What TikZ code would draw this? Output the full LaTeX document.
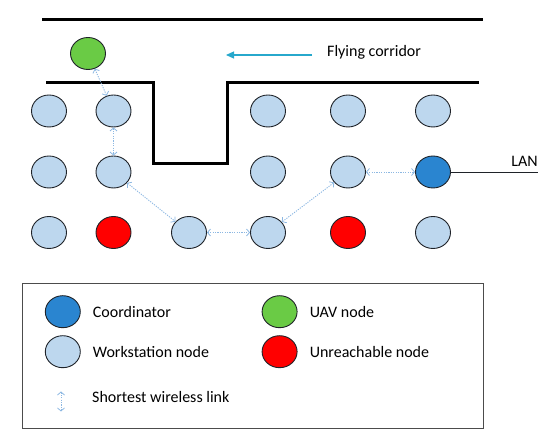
\documentclass[tikz,border=0pt]{standalone}
\usepackage{fontspec}
\setmainfont{Carlito}
\usepackage{tikz}
\usetikzlibrary{positioning, arrows.meta, shapes.geometric}
\definecolor{wsblue}{HTML}{BDD7EE}
\definecolor{coordblue}{HTML}{2A85D0}
\definecolor{uavgreen}{HTML}{6ACB45}
\definecolor{deadred}{HTML}{FF0000}
\definecolor{linkblue}{HTML}{8DB8E2}
\definecolor{corridorcyan}{HTML}{27A8CC}
\definecolor{outline}{HTML}{1F2329}
\tikzset{
  station/.style={ellipse, draw=outline, line width=0.9pt, fill=wsblue, minimum width=35pt, minimum height=32pt, inner sep=0pt},
  coordinator/.style={station, fill=coordblue},
  uav/.style={station, fill=uavgreen},
  unreachable/.style={station, fill=deadred},
  wall/.style={line width=3pt, draw=black},
  link/.style={{Straight Barb[length=3pt, width=7pt, line width=0.8pt]}-{Straight Barb[length=3pt, width=7pt, line width=0.8pt]}, line width=0.9pt, draw=linkblue, dash pattern=on 1.2pt off 1.2pt},
  corridor/.style={-{Triangle[length=8pt, width=7pt]}, line width=1.1pt, draw=corridorcyan},
  label/.style={font=\fontsize{16}{19}\selectfont, inner sep=0pt},
}

\begin{document}
\begin{tikzpicture}[x=1pt, y=-1pt]
  \useasboundingbox (0,0) rectangle (550,438);

  % Corridor walls
  \draw[wall] (42,19.5) -- (483,19.5);
  \draw[wall] (46,83) -- (153,83) -- (153,164) -- (227,164) -- (227,83) -- (479,83);

  % Flying corridor direction
  \coordinate (flytail) at (312,55);
  \coordinate (flyhead) at (226,55);
  \draw[corridor] (flytail) -- (flyhead);
  \node[label, anchor=west] (flytext) at (327,52) {Flying corridor};

  % UAV
  \node[uav] (uav) at (88,53.5) {};

  % Row 1
  \node[station] (w11) at (49,111) {};
  \node[station] (w12) at (113.5,111) {};
  \node[station] (w14) at (268,111) {};
  \node[station] (w15) at (348,111) {};
  \node[station] (w16) at (433,111) {};
  % Row 2
  \node[station] (w21) at (49,172) {};
  \node[station] (w22) at (113.5,172) {};
  \node[station] (w24) at (268,172) {};
  \node[station] (w25) at (348,172) {};
  \node[coordinator] (coord) at (433,172) {};
  % Row 3
  \node[station] (w31) at (49,232.5) {};
  \node[unreachable] (w32) at (113.5,232.5) {};
  \node[station] (w33) at (189,232.5) {};
  \node[station] (w34) at (268,232.5) {};
  \node[unreachable] (w35) at (348,232.5) {};
  \node[station] (w36) at (433,232.5) {};

  % LAN uplink
  \coordinate (lanend) at (538,172);
  \draw[line width=0.9pt, draw=outline] (coord.east) -- (lanend);
  \node[label, anchor=south east] (lan) at ([yshift=5pt]lanend) {LAN};

  % Shortest path
  \draw[link] (uav) -- (w12);
  \draw[link] (w12) -- (w22);
  \draw[link] (w22) -- (w33);
  \draw[link] (w33) -- (w34);
  \draw[link] (w34) -- (w25);
  \draw[link] (w25) -- (coord);

  % Legend
  \node[draw=black!70, line width=0.8pt, minimum width=461pt, minimum height=145pt, inner sep=0pt] (legend) at (252.5,355.5) {};
  \node[coordinator] (lgcoord) at (62.8,311.7) {};
  \node[label, right=12pt of lgcoord] {Coordinator};
  \node[station] (lgws) at (62.8,351.7) {};
  \node[label, right=12pt of lgws] {Workstation node};
  \node[uav] (lguav) at (279.6,311.7) {};
  \node[label, right=12pt of lguav] {UAV node};
  \node[unreachable] (lgdead) at (279.6,351.7) {};
  \node[label, right=12pt of lgdead] {Unreachable node};
  \coordinate (lgtop) at (61,391.5);
  \coordinate (lgbot) at (61,411.5);
  \draw[link] (lgtop) -- (lgbot);
  \node[label, anchor=west] (lglink) at (92,397) {Shortest wireless link};
\end{tikzpicture}
\end{document}
